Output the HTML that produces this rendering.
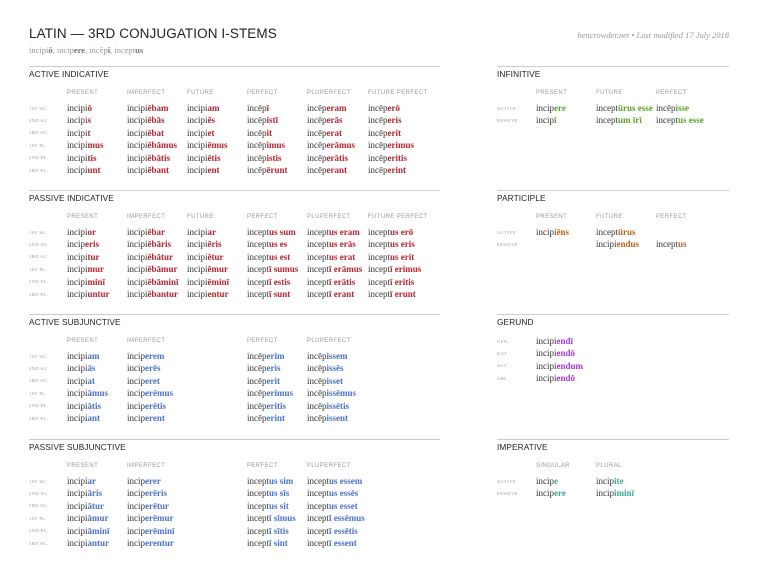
<!DOCTYPE html>
<html><head><meta charset="utf-8">
<style>
html,body{margin:0;padding:0;background:#fff;}
body{width:758px;height:586px;position:relative;overflow:hidden;font-family:"Liberation Serif",serif;}
.a{position:absolute;white-space:nowrap;}
.title{font-family:"Liberation Sans",sans-serif;font-size:13.5px;color:#222;letter-spacing:0.1px;}
.sub{font-size:8.5px;color:#999;}
.meta{font-size:8.5px;color:#999;font-style:italic;}
.rule{position:absolute;height:1px;background:#ccc;}
.h{font-family:"Liberation Sans",sans-serif;font-size:8.3px;color:#222;letter-spacing:0.1px;}
.ch{font-family:"Liberation Sans",sans-serif;font-size:6px;color:#999;letter-spacing:0.4px;}
.rl{font-size:4.6px;color:#999;letter-spacing:0.4px;}
.w{font-size:9px;color:#333;line-height:12px;}
.w b{font-weight:bold;}
</style></head><body>
<div class="a title" style="left:29px;top:26px">LATIN — 3RD CONJUGATION I-STEMS</div>
<div class="a sub" style="left:29px;top:45px">incipi<b style="color:#777">ō</b>, incip<b style="color:#777">ere</b>, incēp<b style="color:#777">ī</b>, incept<b style="color:#777">us</b></div>
<div class="a meta" style="right:29px;top:30px">bencrowder.net • Last modified 17 July 2018</div>
<div id="root"></div>
<script>
const root=document.getElementById('root');
const RED='#b5242f',BLUE='#4a72c8',GREEN='#5aa529',ORANGE='#b5651d',PURPLE='#a43bd6',TEAL='#3aa99a';
const personLabels=['1ST SG.','2ND SG.','3RD SG.','1ST PL.','2ND PL.','3RD PL.'];
const leftCols=[67,127,187,247,307,368];
const rightCols=[536,596,656];
const sections=[
 {name:'active-indicative',title:'ACTIVE INDICATIVE',x:29,w:411,y:66,color:RED,cols:leftCols,labels:personLabels,
  heads:['PRESENT','IMPERFECT','FUTURE','PERFECT','PLUPERFECT','FUTURE PERFECT'],
  data:[['incipi|ō','incipi|ēbam','incipi|am','incēp|ī','incēp|eram','incēp|erō'],
   ['incipi|s','incipi|ēbās','incipi|ēs','incēp|istī','incēp|erās','incēp|eris'],
   ['incipi|t','incipi|ēbat','incipi|et','incēp|it','incēp|erat','incēp|erit'],
   ['incipi|mus','incipi|ēbāmus','incipi|ēmus','incēp|imus','incēp|erāmus','incēp|erimus'],
   ['incipi|tis','incipi|ēbātis','incipi|ētis','incēp|istis','incēp|erātis','incēp|eritis'],
   ['incipi|unt','incipi|ēbant','incipi|ent','incēp|ērunt','incēp|erant','incēp|erint']]},
 {name:'passive-indicative',title:'PASSIVE INDICATIVE',x:29,w:411,y:190,color:RED,cols:leftCols,labels:personLabels,
  heads:['PRESENT','IMPERFECT','FUTURE','PERFECT','PLUPERFECT','FUTURE PERFECT'],
  data:[['incipi|or','incipi|ēbar','incipi|ar','incept|us sum','incept|us eram','incept|us erō'],
   ['incip|eris','incipi|ēbāris','incipi|ēris','incept|us es','incept|us erās','incept|us eris'],
   ['incipi|tur','incipi|ēbātur','incipi|ētur','incept|us est','incept|us erat','incept|us erit'],
   ['incipi|mur','incipi|ēbāmur','incipi|ēmur','incept|ī sumus','incept|ī erāmus','incept|ī erimus'],
   ['incipi|minī','incipi|ēbāminī','incipi|ēminī','incept|ī estis','incept|ī erātis','incept|ī eritis'],
   ['incipi|untur','incipi|ēbantur','incipi|entur','incept|ī sunt','incept|ī erant','incept|ī erunt']]},
 {name:'active-subjunctive',title:'ACTIVE SUBJUNCTIVE',x:29,w:411,y:314,color:BLUE,cols:[67,127,247,307],labels:personLabels,
  heads:['PRESENT','IMPERFECT','PERFECT','PLUPERFECT'],
  data:[['incipi|am','incip|erem','incēp|erim','incēp|issem'],
   ['incipi|ās','incip|erēs','incēp|eris','incēp|issēs'],
   ['incipi|at','incip|eret','incēp|erit','incēp|isset'],
   ['incipi|āmus','incip|erēmus','incēp|erimus','incēp|issēmus'],
   ['incipi|ātis','incip|erētis','incēp|eritis','incēp|issētis'],
   ['incipi|ant','incip|erent','incēp|erint','incēp|issent']]},
 {name:'passive-subjunctive',title:'PASSIVE SUBJUNCTIVE',x:29,w:411,y:439,color:BLUE,cols:[67,127,247,307],labels:personLabels,
  heads:['PRESENT','IMPERFECT','PERFECT','PLUPERFECT'],
  data:[['incipi|ar','incip|erer','incept|us sim','incept|us essem'],
   ['incipi|āris','incip|erēris','incept|us sīs','incept|us essēs'],
   ['incipi|ātur','incip|erētur','incept|us sit','incept|us esset'],
   ['incipi|āmur','incip|erēmur','incept|ī sīmus','incept|ī essēmus'],
   ['incipi|āminī','incip|erēminī','incept|ī sītis','incept|ī essētis'],
   ['incipi|antur','incip|erentur','incept|ī sint','incept|ī essent']]},
 {name:'infinitive',title:'INFINITIVE',x:497,w:232,y:66,color:GREEN,cols:rightCols,labels:['ACTIVE','PASSIVE'],
  heads:['PRESENT','FUTURE','PERFECT'],
  data:[['incip|ere','incept|ūrus esse','incēp|isse'],['incip|ī','incept|um īrī','incept|us esse']]},
 {name:'participle',title:'PARTICIPLE',x:497,w:232,y:190,color:ORANGE,cols:rightCols,labels:['ACTIVE','PASSIVE'],
  heads:['PRESENT','FUTURE','PERFECT'],
  data:[['incipi|ēns','incept|ūrus',''],['','incipi|endus','incept|us']]},
 {name:'gerund',title:'GERUND',x:497,w:232,y:314,color:PURPLE,cols:[536],labels:['GEN.','DAT.','ACC.','ABL.'],
  heads:null,
  data:[['incipi|endī'],['incipi|endō'],['incipi|endum'],['incipi|endō']]},
 {name:'imperative',title:'IMPERATIVE',x:497,w:232,y:439,color:TEAL,cols:[536,596],labels:['ACTIVE','PASSIVE'],
  heads:['SINGULAR','PLURAL'],
  data:[['incip|e','incip|ite'],['incip|ere','incip|iminī']]}
];
function mk(cls,left,top,txt){const d=document.createElement('div');d.className='a '+cls;d.style.left=left+'px';d.style.top=top+'px';if(txt!==undefined)d.textContent=txt;root.appendChild(d);return d;}
sections.forEach(s=>{
  const r=document.createElement('div');r.className='rule';r.style.left=s.x+'px';r.style.top=s.y+'px';r.style.width=s.w+'px';
  
  
  root.appendChild(r);
  const t=mk('h',s.x,s.y+3,s.title);
  
  
  let rowY;
  if(s.heads){
    s.heads.forEach((h,i)=>{const c=mk('ch',s.cols[i],s.y+24,h);
      
      });
    rowY=s.y+36;
  } else rowY=s.y+21;
  s.data.forEach((row,ri)=>{
    const y=rowY+ri*12.4;
    const l=mk('rl',s.x,y+3.5,s.labels[ri]);
    
    
    row.forEach((cell,ci)=>{
      if(!cell)return;
      const [stem,end]=cell.split('|');
      const d=mk('w',s.cols[ci],y);
      d.innerHTML=stem+'<b style="color:'+s.color+'">'+end+'</b>';
      
      
    });
  });
});
</script>
</body></html>
